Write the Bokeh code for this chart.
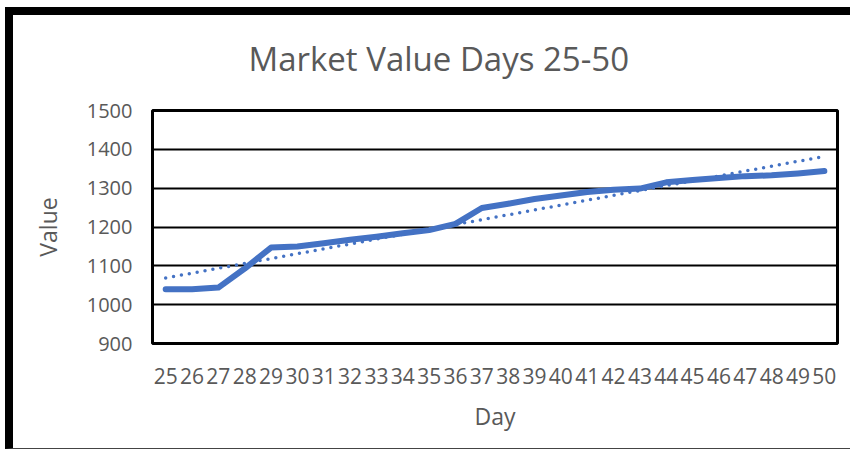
import numpy as np
from bokeh.plotting import figure
from bokeh.models import FactorRange, Range1d, FixedTicker, Title
from bokeh.embed import file_html
from bokeh.resources import INLINE

days = [str(d) for d in range(25, 51)]
values = [1040, 1040, 1044, 1093, 1147, 1150, 1158, 1167, 1175, 1184, 1192, 1208, 1249,
          1260, 1272, 1281, 1290, 1296, 1299, 1315, 1321, 1326, 1331, 1333, 1338, 1344]
y_ticks = [900, 1000, 1100, 1200, 1300, 1400, 1500]

# linear trendline (least squares, like Excel's linear trendline)
idx = np.arange(len(values))
slope, intercept = np.polyfit(idx, values, 1)
trend = list(intercept + slope * idx)

TXT = "#595959"
FONT = "Open Sans"

p = figure(x_range=FactorRange(*days, range_padding=0), y_range=Range1d(900, 1500),
           width=845, height=442, output_backend="svg", toolbar_location=None,
           min_border_left=139, min_border_right=21, min_border_top=95, min_border_bottom=114,
           background_fill_color="white", border_fill_color="white")
p.styles = {"margin-left": "5px", "margin-top": "7px",
            "border-left": "8px solid black", "border-top": "8px solid black",
            "border-bottom": "1px solid #444"}

p.line(days, trend, line_color="#4472C4", line_width=3.5, line_dash="0 8", line_cap="round")
p.line(days, values, line_color="#4472C4", line_width=6, line_cap="round", line_join="round")

p.outline_line_color = "black"
p.outline_line_width = 3

p.ygrid.grid_line_color = "black"
p.ygrid.grid_line_width = 2
p.xgrid.grid_line_color = None

p.yaxis.ticker = FixedTicker(ticks=y_ticks)
for ax in (p.xaxis[0], p.yaxis[0]):
    ax.axis_line_color = None
    ax.major_tick_line_color = None
    ax.minor_tick_line_color = None
    ax.major_label_text_font = FONT
    ax.major_label_text_font_size = "20px"
    ax.major_label_text_color = TXT
    ax.axis_label_text_font = FONT
    ax.axis_label_text_font_size = "23px"
    ax.axis_label_text_color = TXT
    ax.axis_label_text_font_style = "normal"

p.xaxis.major_label_text_font_size = "21px"
p.yaxis.axis_label = "Value"
p.xaxis.axis_label = "Day"
p.yaxis.major_label_standoff = 14
p.yaxis.axis_label_standoff = 20
p.xaxis.major_label_standoff = 18
p.xaxis.axis_label_standoff = 13
p.xaxis.major_label_orientation = "horizontal"

spacer = Title(text=" ", text_font_size="25px", standoff=0)
p.add_layout(spacer, "above")
t = Title(text="Market Value Days 25-50", align="left", offset=96,
          text_font=FONT, text_font_size="33px", text_color=TXT, text_font_style="normal",
          standoff=0)
p.add_layout(t, "above")

open("out.html", "w").write(file_html(p, INLINE))
